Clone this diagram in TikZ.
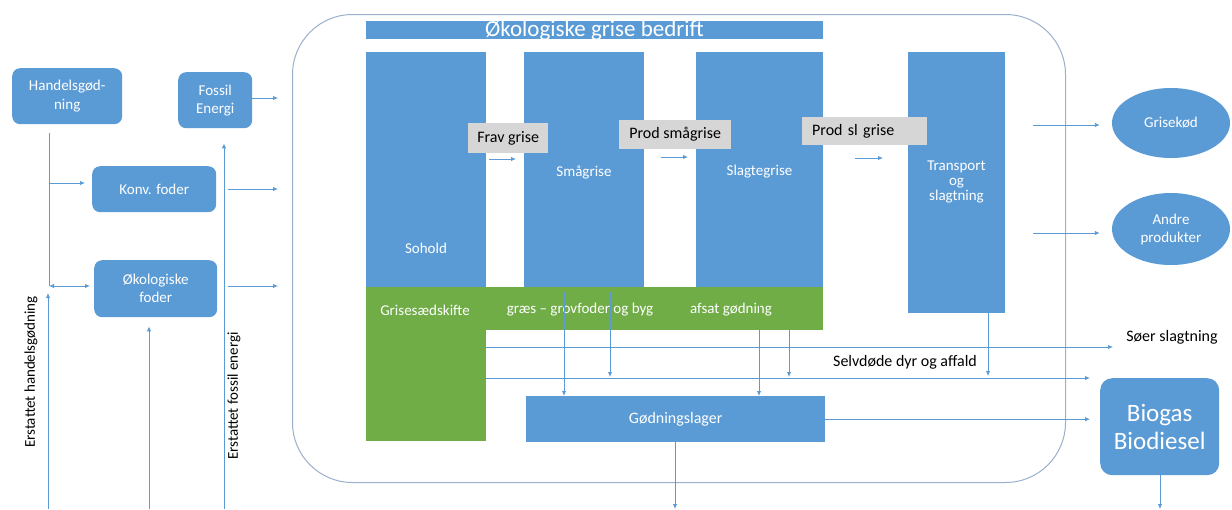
\documentclass[tikz,border=0pt]{standalone}
\usepackage{fontspec}
\setmainfont{Carlito}
\usetikzlibrary{arrows.meta,shapes.geometric,calc}
\definecolor{obl}{HTML}{5B9BD5}
\definecolor{ogr}{HTML}{70AD47}
\definecolor{lgr}{HTML}{D6D6D6}
\definecolor{frm}{HTML}{9AB0CC}
\newcommand\fz[2]{\fontsize{#1}{#2}\selectfont}
\begin{document}
\begin{tikzpicture}[x=1pt,y=-1pt,
  blk/.style={fill=obl, text=white, inner sep=0pt, anchor=north west, align=center, font=\fz{15}{18}},
  rbox/.style={blk, rounded corners=8pt},
  grn/.style={fill=ogr, inner sep=0pt, anchor=north west},
  lbl/.style={fill=lgr, text=black, inner sep=0pt, anchor=north west, font=\fz{16}{18}},
  wt/.style={text=white, inner sep=0pt, align=center, font=\fz{15}{15}},
  bt/.style={text=black, inner sep=0pt, font=\fz{16}{18}},
  ell/.style={ellipse, fill=obl, text=white, inner sep=0pt, align=center, font=\fz{15}{18}},
  arr/.style={draw=obl, line width=0.9pt, -{Latex[length=5pt,width=4.5pt]}},
  darr/.style={draw=obl, line width=0.9pt, {Latex[length=5pt,width=4.5pt]}-{Latex[length=5pt,width=4.5pt]}},
  ln/.style={draw=obl, line width=0.9pt},
]
\fill[white] (0,0) rectangle (1232,509);
\useasboundingbox (0,0) rectangle (1232,509);

% frame
\node[draw=frm, line width=1pt, rounded corners=60pt, anchor=north west, inner sep=0pt,
      minimum width=773pt, minimum height=468pt] (frame) at (292,14) {};

% title
\node[blk, minimum width=457pt, minimum height=18pt] (title) at (366,21) {};
\node[wt, anchor=base, font=\fz{23}{25}] (titlet) at (594.5,36) {Økologiske grise bedrift};

% columns
\node[blk, minimum width=120pt, minimum height=235pt] (sohold) at (366,52) {};
\node[blk, minimum width=120pt, minimum height=235pt] (smaa) at (524,52) {};
\node[blk, minimum width=127pt, minimum height=235pt] (slagte) at (696,52) {};
\node[blk, minimum width=97pt, minimum height=261pt] (transp) at (908,52) {};
\node[wt] (soholdt) at (426,248) {Sohold};
\node[wt] (smaat) at (584,172) {Smågrise};
\node[wt] (slagtet) at (759.5,172) {Slagtegrise};
\node[wt] (transpt) at (956.5,182) {Transport\\og\\slagtning};

% green
\node[grn, minimum width=457pt, minimum height=43pt] (gbar) at (366,287) {};
\node[grn, minimum width=120pt, minimum height=154pt] (gcol) at (366,287) {};
\node[wt] (g1) at (425,310) {Grisesædskifte};
\node[wt] (g2) at (580,310) {græs – grovfoder og byg};
\node[wt] (g3) at (731,310) {afsat gødning};

% grey labels
\node[lbl, minimum width=80pt, minimum height=30pt] (frav) at (468,123) {Frav grise};
\node[lbl, minimum width=112pt, minimum height=29pt] (prods) at (619,120) {Prod smågrise};
\node[lbl, minimum width=125pt, minimum height=28pt, text width=105pt, align=left] (prodsl) at (802,117) {Prod sl grise};

% small arrows between columns
\draw[arr, shorten <=3pt, shorten >=8pt] (sohold.east |- 0,159) -- (smaa.west |- 0,159);
\draw[arr, shorten <=17pt, shorten >=8pt] (smaa.east |- 0,157) -- (slagte.west |- 0,157);
\draw[arr, shorten <=32pt, shorten >=25pt] (slagte.east |- 0,158) -- (transp.west |- 0,158);

% manure store, biogas
\node[blk, minimum width=299pt, minimum height=46pt, font=\fz{16}{18}] (gl) at (526,396) {Gødningslager};
\node[rbox, rounded corners=12pt, minimum width=119pt, minimum height=97pt, font=\fz{25}{28}] (bio) at (1100,378) {Biogas\\Biodiesel};

% outputs
\node[ell, minimum width=118pt, minimum height=70pt] (kod) at (1171,123) {Grisekød};
\node[ell, minimum width=118pt, minimum height=72pt] (andre) at (1171,229) {Andre\\produkter};
\draw[arr, shorten <=28pt, shorten >=12pt] (transp.east |- 0,125) -- (kod.west |- 0,125);
\draw[arr, shorten <=28pt, shorten >=12pt] (transp.east |- 0,233) -- (andre.west |- 0,233);

% flows out of green area
\coordinate (soer) at (1113,347);
\coordinate (selv) at (1090,378);
\draw[arr] (gcol.east |- soer) -- (soer);
\draw[arr] (gcol.east |- selv) -- (selv);
\node[bt] (soert) at (1172,337) {Søer slagtning};
\node[bt] (selvt) at (905,362) {Selvdøde dyr og affald};
\draw[arr, shorten >=2pt] (transp.south -| 988,0) -- (988,378);

\draw[arr] (564,292) -- (gl.north -| 564,0);
\draw[arr, shorten >=1pt] (610,292) -- (610,378);
\draw[arr] (759,292) -- (gl.north -| 759,0);
\draw[arr, shorten >=1pt] (789,292) -- (789,378);

\draw[arr, shorten >=10pt] (gl.east) -- (bio.west |- gl.east);
\coordinate (glout) at (675,509);
\draw[arr] (gl.south -| glout) -- (glout);
\coordinate (bioout) at (1160,509);
\draw[arr] (bio.south -| bioout) -- (bioout);

% left side inputs
\node[rbox, minimum width=110pt, minimum height=56pt, font=\fz{15}{19}] (hg) at (12,68) {Handelsgød-\\ning};
\node[rbox, minimum width=74pt, minimum height=56pt, font=\fz{15}{18}] (fe) at (178,72) {Fossil\\Energi};
\node[rbox, minimum width=124pt, minimum height=46pt] (kf) at (92,166) {Konv. foder};
\node[rbox, minimum width=123pt, minimum height=57pt] (of) at (94,260) {Økologiske\\foder};

\draw[ln] (49,133) -- (49,286);
\draw[arr, shorten >=7pt] (49,183) -- (kf.west |- 0,183);
\draw[darr, shorten >=4pt] (49,286) -- (of.west |- 0,286);
\draw[arr] (48,509) -- (48,293);
\draw[arr, shorten >=9pt] (149,509) -- (of.south -| 149,0);
\draw[arr, shorten >=15pt] (224,509) -- (fe.south -| 224,0);
\coordinate (fin1) at (278,98);
\coordinate (fin2) at (278,189);
\coordinate (fin3) at (278,286);
\draw[arr] (fe.east |- fin1) -- (fin1);
\draw[arr] (228,189) -- (fin2);
\draw[arr] (228,286) -- (fin3);

\node[bt, rotate=90, font=\fz{15}{15}] (erh) at (31,372) {Erstattet handelsgødning};
\node[bt, rotate=90, font=\fz{15}{15}] (erf) at (234,396) {Erstattet fossil energi};
\end{tikzpicture}
\end{document}
